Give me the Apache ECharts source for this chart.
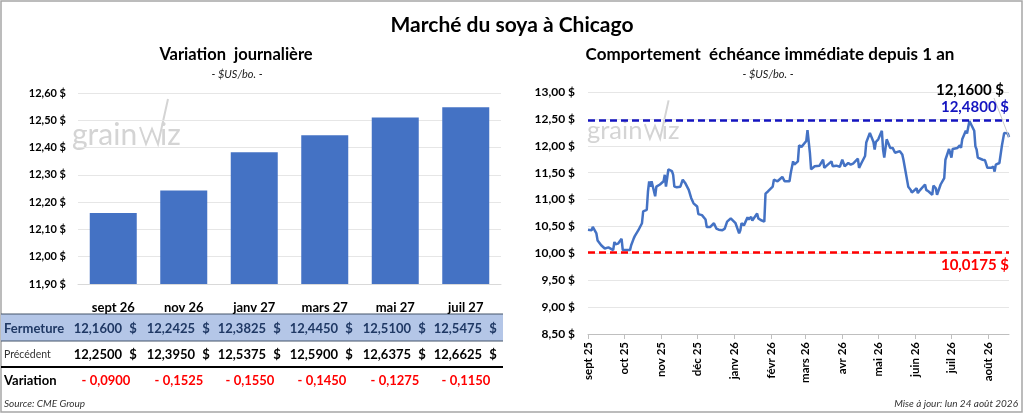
<!DOCTYPE html>
<html>
<head>
<meta charset="utf-8">
<script src="https://cdn.jsdelivr.net/npm/echarts@6/dist/echarts.min.js"></script>
<style>
  html, body { margin: 0; padding: 0; background: #fff; }
  #chart { width: 1024px; height: 414px; }
</style>
</head>
<body>
<div id="chart"></div>
<script>
// contrats a terme (graphique de gauche + tableau)
const contracts = ['sept 26', 'nov 26', 'janv 27', 'mars 27', 'mai 27', 'juil 27'];
const closes = [12.16, 12.2425, 12.3825, 12.445, 12.51, 12.5475];
const previous = [12.25, 12.395, 12.5375, 12.59, 12.6375, 12.6625];

// echeance immediate depuis 1 an (graphique de droite)
const dates = [
  '2025-09-01', '2025-09-04', '2025-09-05', '2025-09-08', '2025-09-09', '2025-09-12', '2025-09-15', '2025-09-18',
  '2025-09-22', '2025-09-23', '2025-09-24', '2025-09-26', '2025-09-29', '2025-09-30', '2025-10-03', '2025-10-06',
  '2025-10-07', '2025-10-09', '2025-10-10', '2025-10-13', '2025-10-14', '2025-10-16', '2025-10-17', '2025-10-20',
  '2025-10-21', '2025-10-22', '2025-10-23', '2025-10-24', '2025-10-27', '2025-10-28', '2025-10-31', '2025-11-03',
  '2025-11-04', '2025-11-05', '2025-11-06', '2025-11-07', '2025-11-10', '2025-11-11', '2025-11-12', '2025-11-14',
  '2025-11-17', '2025-11-19', '2025-11-21', '2025-11-24', '2025-11-26', '2025-11-28', '2025-12-01', '2025-12-02',
  '2025-12-05', '2025-12-08', '2025-12-09', '2025-12-12', '2025-12-15', '2025-12-17', '2025-12-19', '2025-12-22',
  '2025-12-24', '2025-12-26', '2025-12-29', '2025-12-30', '2026-01-02', '2026-01-05', '2026-01-06', '2026-01-07',
  '2026-01-09', '2026-01-12', '2026-01-13', '2026-01-15', '2026-01-16', '2026-01-20', '2026-01-21', '2026-01-23',
  '2026-01-26', '2026-01-27', '2026-01-29', '2026-01-30', '2026-02-02', '2026-02-03', '2026-02-04', '2026-02-06',
  '2026-02-10', '2026-02-12', '2026-02-16', '2026-02-17', '2026-02-19', '2026-02-20', '2026-02-23', '2026-02-24',
  '2026-02-26', '2026-03-02', '2026-03-03', '2026-03-04', '2026-03-05', '2026-03-06', '2026-03-09', '2026-03-10',
  '2026-03-13', '2026-03-16', '2026-03-17', '2026-03-19', '2026-03-23', '2026-03-24', '2026-03-27', '2026-03-30',
  '2026-04-01', '2026-04-03', '2026-04-06', '2026-04-08', '2026-04-10', '2026-04-14', '2026-04-15', '2026-04-17',
  '2026-04-20', '2026-04-21', '2026-04-24', '2026-04-27', '2026-04-28', '2026-04-29', '2026-05-01', '2026-05-04',
  '2026-05-05', '2026-05-06', '2026-05-08', '2026-05-11', '2026-05-13', '2026-05-15', '2026-05-19', '2026-05-21',
  '2026-05-22', '2026-05-26', '2026-05-28', '2026-05-29', '2026-06-02', '2026-06-03', '2026-06-05', '2026-06-09',
  '2026-06-10', '2026-06-12', '2026-06-15', '2026-06-16', '2026-06-18', '2026-06-19', '2026-06-22', '2026-06-25',
  '2026-06-26', '2026-06-29', '2026-07-01', '2026-07-02', '2026-07-06', '2026-07-08', '2026-07-09', '2026-07-10',
  '2026-07-13', '2026-07-14', '2026-07-16', '2026-07-17', '2026-07-20', '2026-07-21', '2026-07-22', '2026-07-23',
  '2026-07-27', '2026-07-29', '2026-07-31', '2026-08-03', '2026-08-05', '2026-08-06', '2026-08-07', '2026-08-10',
  '2026-08-12', '2026-08-13', '2026-08-14', '2026-08-17', '2026-08-18'
];
const prices = [
  10.44, 10.43, 10.49, 10.37, 10.24, 10.15, 10.09, 10.11,
  10.06, 10.21, 10.17, 10.18, 10.27, 10.06, 10.06, 10.06,
  10.15, 10.27, 10.32, 10.43, 10.42, 10.56, 10.78, 10.81,
  11.15, 11.34, 11.24, 11.34, 11.06, 11.24, 11.28, 11.34,
  11.46, 11.24, 11.40, 11.56, 11.53, 11.46, 11.24, 11.23,
  11.24, 11.37, 11.31, 11.18, 11.03, 10.93, 10.87, 10.73,
  10.71, 10.63, 10.49, 10.49, 10.56, 10.46, 10.44, 10.43,
  10.46, 10.59, 10.65, 10.62, 10.56, 10.37, 10.43, 10.56,
  10.52, 10.67, 10.63, 10.68, 10.61, 10.74, 10.65, 10.62,
  10.59, 11.11, 11.15, 11.12, 11.24, 11.37, 11.34, 11.34,
  11.42, 11.34, 11.34, 11.49, 11.71, 11.65, 11.71, 12.01,
  11.98, 12.09, 12.29, 12.26, 11.87, 11.56, 11.62, 11.63,
  11.63, 11.74, 11.59, 11.63, 11.71, 11.62, 11.63, 11.61,
  11.74, 11.62, 11.68, 11.65, 11.67, 11.76, 11.59, 11.68,
  11.81, 12.06, 12.24, 12.07, 11.93, 12.07, 12.12, 12.28,
  11.93, 11.78, 12.12, 11.96, 11.96, 11.87, 11.90, 11.84,
  11.74, 11.24, 11.18, 11.13, 11.21, 11.12, 11.18, 11.28,
  11.18, 11.15, 11.09, 11.26, 11.21, 11.09, 11.28, 11.40,
  11.74, 11.94, 11.78, 11.94, 11.96, 12.01, 11.96, 12.12,
  12.28, 12.23, 12.46, 12.48, 12.28, 11.99, 11.93, 11.78,
  11.74, 11.73, 11.59, 11.59, 11.61, 11.52, 11.65, 11.68,
  11.99, 12.01, 12.24, 12.23, 12.16
];
const high52 = 12.48;
const low52 = 10.0175;
const lastClose = 12.16;
const lastDate = dates[dates.length - 1];
const monthNames = ['janv', 'févr', 'mars', 'avr', 'mai', 'juin', 'juil', 'août', 'sept', 'oct', 'nov', 'déc'];

const FONT = 'Lato, "Open Sans", sans-serif';
const BLUE = '#4472C4';
const NAVY = '#1F3864';
const NOLIG = '\u200C'; // evite la ligature "ti" de Lato

const comma = (v, d) => v.toFixed(d).replace('.', ',');

// colonnes du tableau (position du signe $)
const colX = [133, 206, 277, 349, 422, 493];

function txt(text, x, y, opts) {
  opts = opts || {};
  return {
    type: 'text',
    silent: true,
    style: {
      text: text, x: x, y: y,
      fill: opts.fill || '#000',
      font: opts.font || ('bold 13px ' + FONT),
      textAlign: opts.align || 'left',
      textVerticalAlign: 'middle'
    }
  };
}

function watermark(x, y, s) {
  const f = (30 * s) + 'px ' + FONT;
  return [
    { type: 'text', silent: true, z: -1, style: { text: 'grain', x: x, y: y, fill: '#d4d4d4', font: f, textVerticalAlign: 'middle' } },
    { type: 'polyline', silent: true, z: -1, shape: { points: [[x + 68 * s, y - 8 * s], [x + 74 * s, y + 9 * s], [x + 80 * s, y - 6 * s], [x + 86 * s, y + 9 * s], [x + 96 * s, y - 36 * s]] }, style: { stroke: '#d4d4d4', lineWidth: 2, fill: null } },
    { type: 'text', silent: true, z: -1, style: { text: 'iz', x: x + 88 * s, y: y, fill: '#d4d4d4', font: f, textVerticalAlign: 'middle' } }
  ];
}

const graphics = [
  { type: 'rect', silent: true, shape: { x: 1, y: 1, width: 1021, height: 411 }, style: { fill: null, stroke: '#a6a6a6', lineWidth: 1.5 } },
  txt('Marché du soya à Chicago', 512, 25, { align: 'center', font: 'bold 21px ' + FONT }),
  txt('Varia' + NOLIG + 'tion  journalière', 236, 55, { align: 'center', font: 'bold 16.5px ' + FONT }),
  txt('- $US/bo. -', 237, 74, { align: 'center', font: 'italic 11px ' + FONT, fill: '#222' }),
  txt('Comportement  échéance immédiate depuis 1 an', 770, 55, { align: 'center', font: 'bold 17px ' + FONT }),
  txt('- $US/bo. -', 768, 74, { align: 'center', font: 'italic 11px ' + FONT, fill: '#222' }),
  // tableau
  { type: 'rect', silent: true, shape: { x: 1, y: 314, width: 502, height: 27 }, style: { fill: '#B4C6E7' } },
  { type: 'line', silent: true, shape: { x1: 1, y1: 314, x2: 503, y2: 314 }, style: { stroke: '#44546A', lineWidth: 1 } },
  { type: 'line', silent: true, shape: { x1: 1, y1: 341, x2: 503, y2: 341 }, style: { stroke: '#44546A', lineWidth: 1 } },
  { type: 'line', silent: true, shape: { x1: 1, y1: 367, x2: 503, y2: 367 }, style: { stroke: '#000', lineWidth: 2 } },
  txt('Fermeture', 4, 329, { fill: NAVY }),
  txt('Précédent', 4, 355, { font: '10.5px ' + FONT, fill: '#333' }),
  txt('Varia' + NOLIG + 'tion', 4, 381),
  txt('Source: CME Group', 4, 404, { font: 'italic 10px ' + FONT, fill: '#333' }),
  txt('Mise à jour: lun 24 août 2026', 1018, 404, { align: 'right', font: 'italic 10px ' + FONT, fill: '#333' })
].concat(watermark(72, 135, 1), watermark(587, 131, 0.85));

closes.forEach((c, i) => {
  const p = previous[i];
  const d = c - p;
  graphics.push(txt(comma(c, 4), colX[i] - 11, 329, { align: 'right', fill: NAVY }));
  graphics.push(txt('$', colX[i], 329, { align: 'center', fill: NAVY }));
  graphics.push(txt(comma(p, 4), colX[i] - 11, 355, { align: 'right' }));
  graphics.push(txt('$', colX[i], 355, { align: 'center' }));
  graphics.push(txt((d < 0 ? '- ' : '+ ') + comma(Math.abs(d), 4), colX[i] - 27, 381, { align: 'center', fill: '#FF0000' }));
});

const chart = echarts.init(document.getElementById('chart'));

chart.setOption({
  animation: false,
  textStyle: { fontFamily: FONT },
  graphic: graphics,
  grid: [
    { left: 78, top: 93, width: 423, height: 191 },
    { left: 588, top: 92, width: 421, height: 242 }
  ],
  xAxis: [
    {
      type: 'category', gridIndex: 0, data: contracts,
      axisLine: { lineStyle: { color: '#d9d9d9' } },
      axisTick: { show: false },
      axisLabel: { color: '#000', fontWeight: 'bold', fontSize: 13, margin: 17 }
    },
    {
      type: 'time', gridIndex: 1,
      min: dates[0], max: lastDate,
      splitNumber: 12,
      minInterval: 28 * 86400000,
      maxInterval: 31 * 86400000,
      axisLine: { lineStyle: { color: '#bfbfbf' } },
      axisTick: { show: true, length: 5, lineStyle: { color: '#bfbfbf' } },
      splitLine: { show: false },
      axisLabel: {
        rotate: 90, color: '#000', fontWeight: 'bold', fontSize: 11.5, margin: 8,
        showMaxLabel: false,
        formatter: (v) => {
          const dt = new Date(v);
          return monthNames[dt.getMonth()] + ' ' + String(dt.getFullYear()).slice(2);
        }
      }
    }
  ],
  yAxis: [
    {
      type: 'value', gridIndex: 0, min: 11.9, max: 12.6, interval: 0.1,
      axisLine: { show: false }, axisTick: { show: false },
      splitLine: { lineStyle: { color: '#e6e6e6' } },
      axisLabel: { color: '#000', fontWeight: 'bold', fontSize: 11, margin: 12, formatter: (v) => comma(v, 2) + ' $' }
    },
    {
      type: 'value', gridIndex: 1, min: 8.5, max: 13, interval: 0.5,
      axisLine: { show: false }, axisTick: { show: false },
      splitLine: { lineStyle: { color: '#e6e6e6' } },
      axisLabel: { color: '#000', fontWeight: 'bold', fontSize: 12, margin: 13, formatter: (v) => comma(v, 2) + ' $' }
    }
  ],
  series: [
    {
      type: 'bar', xAxisIndex: 0, yAxisIndex: 0,
      data: closes, barWidth: 47,
      itemStyle: { color: BLUE }
    },
    {
      type: 'line', xAxisIndex: 1, yAxisIndex: 1,
      data: dates.map((d, i) => [d, prices[i]]),
      showSymbol: false,
      lineStyle: { color: BLUE, width: 2.5 },
      markLine: {
        silent: true, symbol: 'none',
        data: [
          {
            yAxis: high52,
            lineStyle: { color: '#1515C0', type: [7, 4], width: 2.5 },
            label: { position: 'insideEndTop', formatter: comma(high52, 4) + ' $', color: '#1515C0', fontWeight: 'bold', fontSize: 15, distance: [0, 5] }
          },
          {
            yAxis: low52,
            lineStyle: { color: '#FF0000', type: [7, 4], width: 2.5 },
            label: { position: 'insideEndBottom', formatter: comma(low52, 4) + ' $', color: '#FF0000', fontWeight: 'bold', fontSize: 15, distance: [0, 5] }
          },
          // trait de rappel vers l'etiquette du dernier cours
          [
            { coord: [lastDate, lastClose], lineStyle: { color: '#c8c8c8', type: 'solid', width: 1 }, label: { show: false } },
            { x: 994, y: 98 }
          ]
        ]
      },
      markPoint: {
        silent: true,
        symbol: 'circle', symbolSize: 0,
        data: [{ coord: [lastDate, lastClose], value: lastClose }],
        label: {
          show: true, position: 'top', offset: [-39, -35],
          formatter: comma(lastClose, 4) + ' $',
          color: '#000', fontWeight: 'bold', fontSize: 15
        }
      }
    }
  ]
});
</script>
</body>
</html>
